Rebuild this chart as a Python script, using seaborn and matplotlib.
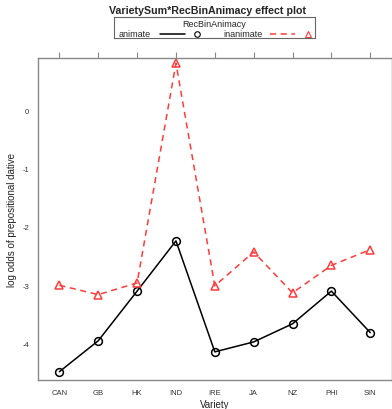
import pandas as pd
import numpy as np
import seaborn as sns
import matplotlib.pyplot as plt
from matplotlib.lines import Line2D

# values
varieties = ['CAN', 'GB', 'HK', 'IND', 'IRE', 'JA', 'NZ', 'PHI', 'SIN']
animate = [-4.48, -3.95, -3.10, -2.24, -4.14, -3.97, -3.66, -3.10, -3.81]
inanimate = [-3.00, -3.16, -2.96, 0.80, -3.01, -2.43, -3.13, -2.66, -2.39]
levels = ['animate', 'inanimate']

df = pd.DataFrame({
    'Variety': varieties * 2,
    'logodds': animate + inanimate,
    'RecBinAnimacy': ['animate'] * len(varieties) + ['inanimate'] * len(varieties),
})

sns.set_style('white')
plt.rcParams['font.family'] = ['Liberation Sans', 'DejaVu Sans']

red = '#ff3b3b'
fig = plt.figure(figsize=(3.92, 4.10), dpi=100)
ax = fig.add_axes([0.097, 0.071, 0.902, 0.785])

sns.lineplot(data=df, x='Variety', y='logodds', hue='RecBinAnimacy',
             style='RecBinAnimacy', palette={'animate': 'black', 'inanimate': red},
             markers={'animate': 'o', 'inanimate': '^'},
             dashes={'animate': '', 'inanimate': (4, 3)},
             linewidth=1.1, legend=False, ax=ax)
for ln in ax.lines:
    ln.set_markerfacecolor('none')
    ln.set_markeredgecolor(ln.get_color())
    ln.set_markeredgewidth(1.1)
    ln.set_markersize(5.6 if ln.get_marker() == 'o' else 6.3)

ax.set_xlim(-0.55, 8.55)
ax.set_ylim(-4.62, 0.89)
ax.set_yticks([-4, -3, -2, -1, 0])
ax.set_yticklabels(['-4', '-3', '-2', '-1', '0'])
for s in ax.spines.values():
    s.set_color('#888888')
    s.set_linewidth(1.0)
ax.tick_params(axis='both', which='both', direction='out', length=4, width=0.8,
               color='#888888', labelsize=5.5, labelcolor='#333333', pad=2.5,
               top=True, right=True, labeltop=False, labelright=False)
ax.set_xlabel('Variety', fontsize=7, color='#222222', labelpad=2)
ax.set_ylabel('log odds of prepositional dative', fontsize=7, color='#222222')
ax.yaxis.set_label_coords(-0.06, 0.5)

fig.text(0.53, 0.973, 'VarietySum*RecBinAnimacy effect plot', ha='center', va='center',
         fontsize=7.7, fontweight='bold')

# lattice-style key
lg = fig.add_axes([114 / 392, 1 - 39 / 410, 201 / 392, 21 / 410])
lg.set_xlim(0, 201)
lg.set_ylim(21, 0)
lg.set_xticks([])
lg.set_yticks([])
for s in lg.spines.values():
    s.set_color('#666666')
    s.set_linewidth(0.8)
lg.text(100, 6.5, 'RecBinAnimacy', ha='center', va='center', fontsize=6.5)
lg.text(5, 16.5, levels[0], ha='left', va='center', fontsize=6.5)
lg.add_line(Line2D([46, 71], [16.5, 16.5], color='black', lw=1.1))
lg.plot([83], [16.5], marker='o', mfc='none', mec='black', ms=4, mew=0.8)
lg.text(109, 16.5, levels[1], ha='left', va='center', fontsize=6.5)
lg.add_line(Line2D([156, 181], [16.5, 16.5], color=red, lw=1.1, dashes=(4, 3)))
lg.plot([194], [16.5], marker='^', mfc='none', mec=red, ms=4.5, mew=0.8)

fig.savefig('out.png', dpi=100)
